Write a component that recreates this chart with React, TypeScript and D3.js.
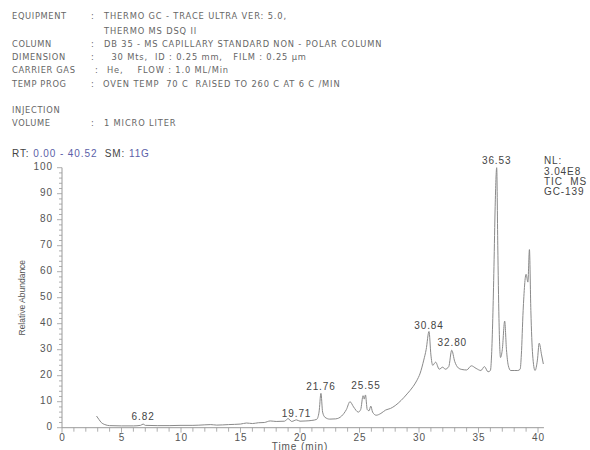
import React from "react";
import * as d3 from "d3";

const headerLabels = ["EQUIPMENT", "", "COLUMN", "DIMENSION", "CARRIER GAS", "TEMP PROG", "INJECTION", "VOLUME"];
const headerValues = [
  "THERMO GC - TRACE ULTRA VER: 5.0,",
  "THERMO MS DSQ II",
  "DB 35 - MS CAPILLARY STANDARD NON - POLAR COLUMN",
  " 30 Mts,  ID : 0.25 mm,   FILM : 0.25 µm",
  "He,    FLOW : 1.0 ML/Min",
  "OVEN TEMP  70 C  RAISED TO 260 C AT 6 C /MIN",
  "",
  "1 MICRO LITER",
];
const headerColon = [true, false, true, true, true, true, false, true];

const times = [
  2.9, 3.1, 3.3, 3.6, 4.0, 5.0, 6.0, 6.6, 6.82, 7.0, 8, 9, 10, 11, 12, 12.5, 13, 14, 15, 15.5, 16, 16.5, 17, 17.5, 18,
  18.7, 19, 19.3, 19.71, 20, 20.5, 21, 21.4, 21.6, 21.76, 21.9, 22.1, 22.5, 23, 23.5, 23.9, 24.2, 24.5, 24.9, 25.1,
  25.3, 25.4, 25.5, 25.65, 25.8, 25.95, 26.1, 26.4, 26.8, 27.2, 27.6, 28, 28.5, 29, 29.5, 29.8, 30.1, 30.4, 30.6,
  30.84, 31.0, 31.15, 31.4, 31.7, 32.0, 32.2, 32.5, 32.75, 33.0, 33.3, 33.6, 34.0, 34.4, 34.8, 35.2, 35.5, 35.8, 36.0,
  36.1, 36.2, 36.3, 36.4, 36.53, 36.62, 36.72, 36.85, 37.0, 37.2, 37.35, 37.5, 37.7, 38.0, 38.3, 38.5, 38.6, 38.75,
  39.0, 39.15, 39.28, 39.4, 39.55, 39.75, 39.95, 40.1, 40.3, 40.45,
];
const abundance = [
  4.5, 3.2, 2.0, 1.2, 0.8, 0.7, 0.7, 0.9, 1.4, 0.9, 0.8, 0.8, 0.9, 0.9, 1.1, 1.2, 1.0, 1.2, 1.4, 1.8, 1.6, 1.9, 2.0, 2.6,
  2.4, 2.5, 3.5, 2.4, 3.0, 2.5, 2.6, 2.8, 3.2, 6, 13.2, 6, 4, 3.3, 3.4, 4.5, 7, 10, 8, 6, 7, 12.3, 11, 12.6, 7, 6.5, 8.3,
  6, 4.8, 5.5, 6.8, 7.4, 8.5, 10.5, 13, 15.8, 18, 21, 26, 30, 37, 28, 24, 25.2, 22.5, 23.3, 22.5, 23.5, 29.8, 25.5, 23,
  22.4, 22.2, 23.8, 22.8, 22, 23.5, 21.5, 22, 28, 42, 62, 85, 100, 70, 42, 27, 30, 41, 30, 24, 22, 22, 22, 22.5, 28,
  45, 59, 56, 68.5, 45, 28, 22, 26, 32.5, 28, 24.5,
];

const peakLabels = ["6.82", "19.71", "21.76", "25.55", "30.84", "32.80", "36.53"];
const peakTimes = [6.82, 19.71, 21.76, 25.55, 30.84, 32.8, 36.53];
const peakLabelHeights = [3.0, 4.0, 14.5, 15.0, 38.0, 31.5, 101.5];

const nlLines = ["NL:", "3.04E8", "TIC  MS", "GC-139"];
const xTicks = [0, 5, 10, 15, 20, 25, 30, 35, 40];
const yTicks = [0, 10, 20, 30, 40, 50, 60, 70, 80, 90, 100];

export default function App() {
  const x = d3.scaleLinear().domain([0, 40]).range([62, 538]);
  const y = d3.scaleLinear().domain([0, 100]).range([427.7, 167.7]);
  const data = times.map((t, i) => [t, abundance[i]] as [number, number]);
  const line = d3
    .line<[number, number]>()
    .x((d) => x(d[0]))
    .y((d) => y(d[1]))
    .curve(d3.curveMonotoneX);

  const minorX = d3.range(0, 41, 1);
  const minorY = d3.range(0, 101, 2);
  const axisColor = "#9a9a9a";
  const textColor = "#555";
  const sans = "'Liberation Sans', Arial, sans-serif";
  const headFont = "'DejaVu Sans', Verdana, sans-serif";
  const headY = [16.7, 31, 44.3, 57.7, 70.7, 84, 110, 123.3];
  const valueX = [104, 104, 104, 108, 107, 103, 104, 104];
  const colonX = [91, 91, 91, 91, 95, 91, 91, 91];
  const numStyle = { letterSpacing: "0.9px" };

  return (
    <svg
      width={590}
      height={450}
      style={{ position: "absolute", left: 0, top: 0, background: "#fff" }}
    >
      {headerLabels.map((lab, i) => (
        <g key={"h" + i} fontFamily={headFont} fontSize={8.3} fill="#666">
          <text x={12} y={headY[i]} dominantBaseline="middle" style={{ letterSpacing: "0.65px" }}>
            {lab}
          </text>
          {headerColon[i] && (
            <text x={colonX[i]} y={headY[i]} dominantBaseline="middle">
              :
            </text>
          )}
          <text x={valueX[i]} y={headY[i]} dominantBaseline="middle" xmlSpace="preserve" style={{ letterSpacing: "0.85px" }}>
            {headerValues[i]}
          </text>
        </g>
      ))}

      <text x={12} y={154} fontFamily={sans} fontSize={10} dominantBaseline="middle" fill="#444" xmlSpace="preserve" style={numStyle}>
        <tspan>RT: </tspan>
        <tspan fill="#5b5fa8">0.00 - 40.52</tspan>
        <tspan>  SM: </tspan>
        <tspan fill="#5b5fa8">11G</tspan>
      </text>

      {/* axes */}
      <line x1={x(0)} x2={x(0)} y1={y(0)} y2={y(100)} stroke={axisColor} />
      <line x1={x(0)} x2={x(40.5)} y1={y(0)} y2={y(0)} stroke={axisColor} />
      {minorY.map((v) => (
        <line key={"my" + v} x1={x(0) - (v % 10 === 0 ? 5 : 3)} x2={x(0)} y1={y(v)} y2={y(v)} stroke={axisColor} strokeWidth={0.8} />
      ))}
      {minorX.map((v) => (
        <line key={"mx" + v} x1={x(v)} x2={x(v)} y1={y(0)} y2={y(0) + (v % 5 === 0 ? 5 : 4)} stroke={axisColor} strokeWidth={0.8} />
      ))}
      {yTicks.map((v) => (
        <text key={"yt" + v} x={53} y={y(v)} textAnchor="end" dominantBaseline="middle" fontFamily={sans} fontSize={10} fill={textColor} style={numStyle}>
          {v}
        </text>
      ))}
      {xTicks.map((v) => (
        <text key={"xt" + v} x={x(v) + 0.5} y={438} textAnchor="middle" dominantBaseline="middle" fontFamily={sans} fontSize={10} fill={textColor} style={numStyle}>
          {v}
        </text>
      ))}
      <text
        transform={`translate(23,${y(50)}) rotate(-90)`}
        textAnchor="middle"
        dominantBaseline="middle"
        fontFamily={sans}
        fontSize={8.5}
        fill={textColor}
      >
        Relative Abundance
      </text>
      <text x={300} y={447} textAnchor="middle" dominantBaseline="middle" fontFamily={sans} fontSize={10} fill={textColor} style={numStyle}>
        Time (min)
      </text>

      <path d={line(data) || ""} fill="none" stroke="#8a8a8a" strokeWidth={1} />

      {peakLabels.map((lab, i) => (
        <text
          key={"p" + i}
          x={x(peakTimes[i])}
          y={y(peakLabelHeights[i])}
          textAnchor="middle"
          fontFamily={sans}
          fontSize={10}
          fill="#444"
          style={numStyle}
        >
          {lab}
        </text>
      ))}

      {nlLines.map((l, i) => (
        <text key={"nl" + i} x={544} y={161.5 + i * 10.4} dominantBaseline="middle" fontFamily={sans} fontSize={10} fill="#444" xmlSpace="preserve" style={numStyle}>
          {l}
        </text>
      ))}
    </svg>
  );
}
